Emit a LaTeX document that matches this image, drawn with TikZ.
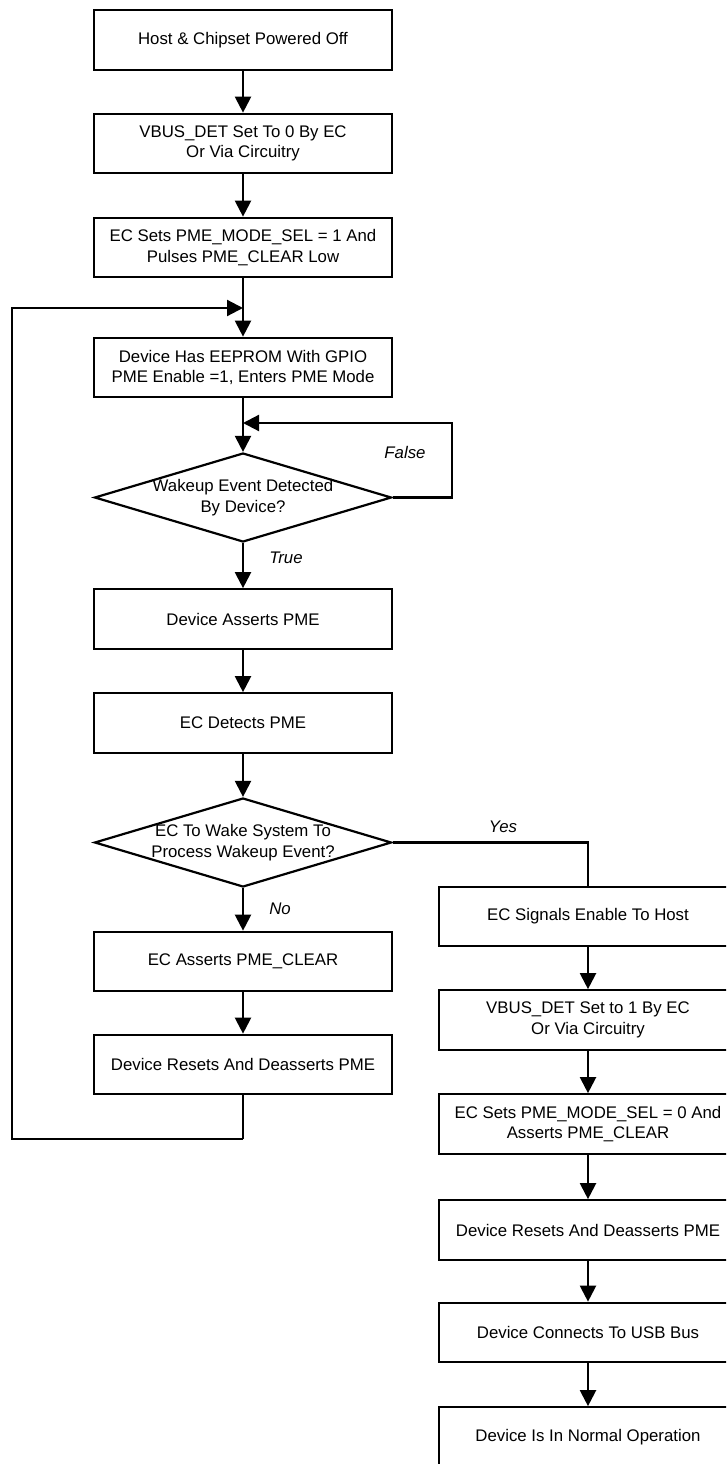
\documentclass[tikz,border=0pt]{standalone}
\usepackage{fontspec}
\setmainfont{Liberation Sans}
\usetikzlibrary{shapes.geometric,arrows.meta}
\begin{document}
\begin{tikzpicture}[x=1pt,y=-1pt,
  every node/.style={font=\fontsize{16.8}{20.5}\selectfont},
  box/.style={draw,line width=2.2pt,minimum width=298pt,minimum height=59.5pt,inner sep=0pt,align=center},
  dia/.style={draw,diamond,line width=2.2pt,minimum width=297pt,minimum height=89pt,inner sep=0pt},
  dtext/.style={align=center,inner sep=0pt},
  lbl/.style={font=\fontsize{16.8}{20.5}\selectfont\itshape},
  conn/.style={line width=2.2pt},
  arr/.style={conn,-{Triangle[length=16pt,width=16pt]}}]
\useasboundingbox (0,0) rectangle (726,1464);
\clip (0,0) rectangle (726,1464);
% left column
\node[box] (b1) at (243,40) {Host \& Chipset Powered Off};
\node[box] (b2) at (243,143.5) {VBUS\_DET Set To 0 By EC\\Or Via Circuitry};
\node[box] (b3) at (243,247.5) {EC Sets PME\_MODE\_SEL = 1 And\\Pulses PME\_CLEAR Low};
\node[box] (b4) at (243,367.5) {Device Has EEPROM With GPIO\\PME Enable =1, Enters PME Mode};
\node[dia] (d1) at (243,497.5) {};
\node[dtext] (d1t) at (243,497.5) {Wakeup Event Detected\\By Device?};
\node[box] (b5) at (243,619) {Device Asserts PME};
\node[box] (b6) at (243,723) {EC Detects PME};
\node[dia] (d2) at (243,842.5) {};
\node[dtext] (d2t) at (243,842.5) {EC To Wake System To\\Process Wakeup Event?};
\node[box] (b7) at (243,961.5) {EC Asserts PME\_CLEAR};
\node[box] (b8) at (243,1064.5) {Device Resets And Deasserts PME};
% right column
\node[box] (r1) at (588,916.5) {EC Signals Enable To Host};
\node[box] (r2) at (588,1020) {VBUS\_DET Set to 1 By EC\\Or Via Circuitry};
\node[box] (r3) at (588,1124) {EC Sets PME\_MODE\_SEL = 0 And\\Asserts PME\_CLEAR};
\node[box] (r4) at (588,1230) {Device Resets And Deasserts PME};
\node[box] (r5) at (588,1332.5) {Device Connects To USB Bus};
\node[box] (r6) at (588,1437) {Device Is In Normal Operation};
% helper coordinates
\coordinate (j1) at (243,308);
\coordinate (j2) at (243,423);
\coordinate (lb) at (243,1139);
\coordinate (ll) at (12,1139);
\coordinate (lt) at (12,308);
\coordinate (fr) at (452,497.5);
\coordinate (ft) at (452,423);
\coordinate (yc) at (588,842.5);
% connectors
\draw[arr] (b1.south) -- (b2.north);
\draw[arr] (b2.south) -- (b3.north);
\draw[arr] (b3.south) -- (b4.north);
\draw[arr] (lb) -- (ll) -- (lt) -- (j1);
\draw[conn] (b8.south) -- (lb);
\draw[arr] (b4.south) -- (d1.north);
\draw[arr] (d1.east) -- (fr) -- (ft) -- (j2);
\draw[arr] (d1.south) -- (b5.north);
\draw[arr] (b5.south) -- (b6.north);
\draw[arr] (b6.south) -- (d2.north);
\draw[arr] (d2.south) -- (b7.north);
\draw[arr] (b7.south) -- (b8.north);
\draw[conn] (d2.east) -- (yc) -- (r1.north);
\draw[arr] (r1.south) -- (r2.north);
\draw[arr] (r2.south) -- (r3.north);
\draw[arr] (r3.south) -- (r4.north);
\draw[arr] (r4.south) -- (r5.north);
\draw[arr] (r5.south) -- (r6.north);
% labels
\node[lbl] (lf) at (405,452) {False};
\node[lbl] (lt2) at (286,558) {True};
\node[lbl] (ln) at (280,909) {No};
\node[lbl] (ly) at (503,827) {Yes};
\end{tikzpicture}
\end{document}
